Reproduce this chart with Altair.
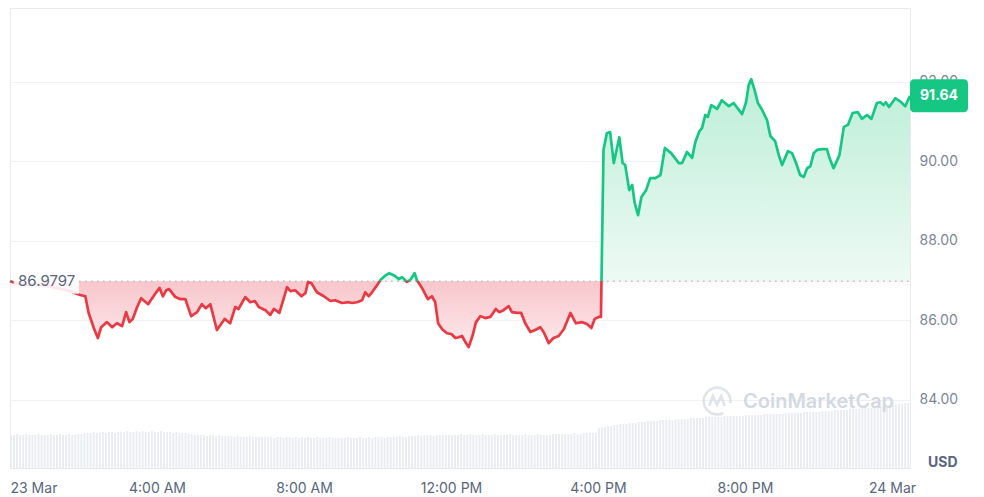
import altair as alt
import pandas as pd

# ---------------- data ----------------
OPEN_PRICE = 86.9797
LAST_LABEL = "91.64"

hours = [0.00, 0.33, 0.73, 1.14, 1.55, 1.91, 2.05, 2.14, 2.28, 2.39, 2.48, 2.64, 2.78, 2.91, 3.05, 3.16,
         3.25, 3.34, 3.46, 3.57, 3.76, 3.94, 4.07, 4.16, 4.25, 4.33, 4.50, 4.63, 4.77, 4.93, 5.09, 5.22,
         5.33, 5.45, 5.63, 5.84, 5.99, 6.13, 6.22, 6.31, 6.40, 6.54, 6.66, 6.77, 6.95, 7.08, 7.18, 7.33,
         7.54, 7.63, 7.76, 7.93, 8.04, 8.11, 8.20, 8.35, 8.54, 8.72, 8.85, 9.03, 9.22, 9.31, 9.44, 9.58,
         9.67, 9.76, 9.85, 9.99, 10.08, 10.20, 10.32, 10.48, 10.58, 10.67, 10.80, 10.89, 11.01, 11.07,
         11.21, 11.37, 11.48, 11.57, 11.65, 11.76, 11.89, 12.01, 12.12, 12.21, 12.30, 12.39, 12.48,
         12.59, 12.68, 12.80, 12.93, 13.07, 13.22, 13.31, 13.43, 13.57, 13.66, 13.80, 13.91, 14.02,
         14.16, 14.29, 14.43, 14.52, 14.66, 14.79, 14.93, 15.07, 15.25, 15.40, 15.56, 15.70, 15.82,
         15.91, 16.02, 16.08, 16.15, 16.24, 16.33, 16.43, 16.58, 16.67, 16.74, 16.85, 16.93, 17.00,
         17.09, 17.18, 17.31, 17.42, 17.56, 17.70, 17.82, 17.99, 18.20, 18.29, 18.42, 18.56, 18.65,
         18.76, 18.83, 18.92, 18.99, 19.08, 19.24, 19.37, 19.56, 19.69, 19.92, 20.03, 20.10, 20.17,
         20.26, 20.35, 20.44, 20.60, 20.69, 20.82, 20.92, 21.01, 21.17, 21.28, 21.39, 21.50, 21.60,
         21.69, 21.78, 21.87, 21.96, 22.10, 22.23, 22.29, 22.41, 22.57, 22.69, 22.80, 22.93, 23.07,
         23.18, 23.32, 23.44, 23.59, 23.68, 23.77, 23.83, 23.92, 24.09, 24.25, 24.36, 24.49]

prices = [86.98, 86.88, 86.91, 86.83, 86.75, 86.63, 86.60, 86.18, 85.80, 85.55, 85.82, 85.95, 85.82,
          85.92, 85.85, 86.20, 85.95, 86.03, 86.33, 86.55, 86.40, 86.65, 86.81, 86.60, 86.75, 86.78,
          86.58, 86.53, 86.53, 86.10, 86.20, 86.40, 86.30, 86.40, 85.75, 86.03, 85.92, 86.33, 86.28,
          86.43, 86.58, 86.45, 86.48, 86.33, 86.25, 86.13, 86.28, 86.18, 86.83, 86.73, 86.75, 86.60,
          86.68, 86.96, 86.93, 86.70, 86.60, 86.48, 86.50, 86.43, 86.45, 86.43, 86.45, 86.50, 86.70,
          86.60, 86.70, 86.88, 87.01, 87.11, 87.18, 87.11, 87.03, 87.08, 86.96, 87.01, 87.18, 87.01,
          86.81, 86.53, 86.60, 86.45, 85.92, 85.77, 85.67, 85.65, 85.55, 85.57, 85.60, 85.45, 85.32,
          85.62, 85.95, 86.10, 86.05, 86.08, 86.28, 86.20, 86.25, 86.35, 86.20, 86.18, 86.18, 85.92,
          85.70, 85.75, 85.82, 85.70, 85.42, 85.55, 85.60, 85.77, 86.18, 85.92, 85.95, 85.90, 85.80,
          86.03, 86.08, 86.08, 90.28, 90.70, 90.73, 89.95, 90.60, 89.95, 89.90, 89.27, 89.40, 88.94,
          88.64, 89.09, 89.27, 89.57, 89.57, 89.65, 90.33, 90.20, 89.95, 89.95, 90.23, 90.08, 90.48,
          90.75, 90.83, 91.16, 91.11, 91.41, 91.31, 91.53, 91.38, 91.46, 91.18, 91.48, 91.91, 92.06,
          91.79, 91.46, 91.33, 91.03, 90.63, 90.50, 90.15, 89.90, 90.25, 90.20, 89.95, 89.65, 89.60,
          89.82, 89.87, 90.20, 90.28, 90.30, 90.30, 90.10, 89.82, 90.15, 90.86, 90.91, 91.21, 91.23,
          91.06, 91.16, 91.06, 91.46, 91.48, 91.41, 91.48, 91.36, 91.58, 91.48, 91.38, 91.64]

# 5-minute volume bars (relative units)
volume = [
    33, 33, 34, 33, 33, 34, 33, 33, 33, 34, 33, 33,
    33, 34, 33, 33, 34, 33, 33, 34, 33, 33, 34, 34,
    35, 35, 35, 36, 35, 35, 36, 35, 36, 36, 35, 36,
    36, 36, 37, 36, 36, 37, 36, 37, 36, 36, 37, 36,
    36, 37, 36, 36, 36, 35, 36, 35, 35, 35, 34, 34,
    33, 33, 33, 33, 32, 33, 33, 32, 33, 32, 32, 32,
    32, 31, 32, 31, 31, 31, 32, 31, 31, 31, 31, 31,
    31, 31, 30, 31, 31, 30, 31, 31, 30, 31, 30, 31,
    30, 31, 30, 30, 31, 30, 30, 30, 31, 30, 30, 30,
    30, 30, 31, 30, 30, 30, 31, 30, 30, 31, 30, 31,
    31, 31, 30, 31, 31, 31, 31, 32, 31, 31, 32, 32,
    32, 33, 32, 33, 33, 33, 32, 33, 33, 33, 33, 33,
    33, 33, 33, 34, 33, 33, 34, 33, 33, 33, 34, 33,
    33, 33, 34, 33, 33, 33, 33, 34, 33, 33, 33, 33,
    34, 33, 33, 33, 34, 33, 33, 33, 33, 34, 34, 34,
    34, 34, 34, 34, 35, 34, 34, 35, 35, 35, 35, 35,
    40, 41, 41, 42, 42, 43, 43, 44, 44, 44, 45, 45,
    45, 46, 46, 46, 47, 47, 47, 47, 48, 48, 48, 48,
    48, 49, 49, 49, 49, 49, 50, 50, 50, 50, 50, 51,
    51, 51, 51, 51, 51, 52, 52, 52, 52, 52, 52, 52,
    53, 53, 53, 53, 53, 53, 54, 54, 54, 54, 54, 54,
    54, 55, 55, 55, 55, 55, 55, 56, 56, 56, 56, 56,
    56, 57, 57, 57, 57, 58, 58, 58, 58, 58, 59, 59,
    59, 59, 60, 60, 60, 60, 61, 61, 61, 62, 62, 62,
    63, 63, 64, 64, 65, 65,
]

x_tick_values = [0, 4, 8, 12, 16, 20, 24]
x_tick_labels = ["23 Mar", "4:00 AM", "8:00 AM", "12:00 PM", "4:00 PM", "8:00 PM", "24 Mar"]
y_tick_values = [84, 86, 88, 90, 92]

# ---------------- styling ----------------
GREEN = "#16c784"
RED = "#ea3943"
FONT = "Inter"
X_DOMAIN = [0, 24.49]
Y_DOMAIN = [82.28, 93.85]
W, H = 900, 460

price_df = pd.DataFrame({"hour": hours, "price": prices})
price_df["base"] = OPEN_PRICE

pmax, pmin = max(prices), min(prices)
off = (pmax - OPEN_PRICE) / (pmax - pmin)

line_grad = alt.Gradient(
    gradient="linear", x1=0, x2=0, y1=0, y2=1,
    stops=[alt.GradientStop(color=GREEN, offset=0),
           alt.GradientStop(color=GREEN, offset=off),
           alt.GradientStop(color=RED, offset=off),
           alt.GradientStop(color=RED, offset=1)],
)
area_grad = alt.Gradient(
    gradient="linear", x1=0, x2=0, y1=0, y2=1,
    stops=[alt.GradientStop(color="#bdeed8", offset=0),
           alt.GradientStop(color="#edfaf4", offset=off),
           alt.GradientStop(color="#f7c6cb", offset=off),
           alt.GradientStop(color="#fde9eb", offset=1)],
)

label_expr = " : ".join(
    f"datum.value == {v} ? '{l}'" for v, l in zip(x_tick_values, x_tick_labels)
) + " : ''"

x_scale = alt.Scale(domain=X_DOMAIN, nice=False, zero=False)
x_axis = alt.Axis(values=x_tick_values, labelExpr=label_expr, labelFlush=True,
                  ticks=False, domain=False, grid=False, title=None,
                  labelFont=FONT, labelFontSize=14, labelColor="#58667e",
                  labelPadding=13)
y_scale = alt.Scale(domain=Y_DOMAIN, nice=False, zero=False)
y_enc = alt.Y(
    "price:Q", scale=y_scale,
    axis=alt.Axis(orient="right", values=y_tick_values, format=".2f", ticks=False,
                  domain=False, grid=True, gridColor="#eff1f4", title=None,
                  labelFont=FONT, labelFontSize=14, labelColor="#7d8699",
                  labelPadding=9),
)

# volume bars
vol_df = pd.DataFrame({"i": range(len(volume)), "volume": volume})
vol_df["hour"] = vol_df["i"] / 12
vol_df["hour2"] = vol_df["hour"] + 0.62 / 12
vol_layer = alt.Chart(vol_df).mark_bar(color="#e7eaee", opacity=0.9).encode(
    x=alt.X("hour:Q", scale=x_scale, axis=x_axis),
    x2="hour2:Q",
    y=alt.Y("volume:Q", scale=alt.Scale(domain=[0, 460], nice=False), axis=None),
    y2=alt.datum(0),
)

base_chart = alt.Chart(price_df)
area = base_chart.mark_area(fill=area_grad, line=False).encode(
    x=alt.X("hour:Q", scale=x_scale, axis=x_axis), y=y_enc, y2=alt.Y2("base:Q"))
line = base_chart.mark_line(stroke=line_grad, strokeWidth=2.7, strokeJoin="round").encode(
    x="hour:Q", y="price:Q")

rule_df = pd.DataFrame({"hour": [1.88], "hour2": [X_DOMAIN[1]], "price": [OPEN_PRICE]})
base_rule = alt.Chart(rule_df).mark_rule(color="#9ba3ae", strokeDash=[1.5, 4.5], strokeWidth=1).encode(
    x="hour:Q", x2="hour2:Q", y="price:Q")

open_box_df = pd.DataFrame({"hour": [0.1], "hour2": [1.88],
                            "price": [OPEN_PRICE + 0.32], "price2": [OPEN_PRICE - 0.32]})
open_box = alt.Chart(open_box_df).mark_rect(color="white", opacity=0.88).encode(
    x="hour:Q", x2="hour2:Q", y="price:Q", y2="price2:Q")
open_text_df = pd.DataFrame({"hour": [0.22], "price": [OPEN_PRICE], "label": [f"{OPEN_PRICE:.4f}"]})
open_text = alt.Chart(open_text_df).mark_text(
    align="left", baseline="middle", font=FONT, fontSize=15, color="#58667e").encode(
    x="hour:Q", y="price:Q", text="label:N")

last_df = pd.DataFrame({"price": [prices[-1] + 0.415], "price2": [prices[-1] - 0.415],
                        "mid": [prices[-1]], "label": [LAST_LABEL]})
last_box = alt.Chart(last_df).mark_rect(color=GREEN, cornerRadius=4).encode(
    x=alt.value(W), x2=alt.value(W + 58), y="price:Q", y2="price2:Q")
last_text = alt.Chart(last_df).mark_text(
    align="center", baseline="middle", font=FONT, fontSize=14, fontWeight="bold", color="white").encode(
    x=alt.value(W + 29), y="mid:Q", text="label:N")

usd = alt.Chart(pd.DataFrame({"t": ["USD"]})).mark_text(
    align="left", baseline="middle", font=FONT, fontSize=14, fontWeight="bold", color="#58667e").encode(
    x=alt.value(W + 18), y=alt.value(H - 5), text="t:N")

logo_path = ("M 0.45 0.85 A 0.95 0.95 0 1 1 0.95 0.15 "
             "M -0.55 0.35 L -0.3 -0.35 L 0 0.25 L 0.3 -0.35 L 0.55 0.35")
logo = alt.Chart(pd.DataFrame({"a": [1]})).mark_point(
    shape=logo_path, filled=False, stroke="#d3d9e3", strokeWidth=2.6, size=800).encode(
    x=alt.value(707), y=alt.value(393))
wm = alt.Chart(pd.DataFrame({"t": ["CoinMarketCap"]})).mark_text(
    align="left", baseline="middle", font=FONT, fontSize=20, fontWeight=600, color="#d3d9e3").encode(
    x=alt.value(733), y=alt.value(394), text="t:N")

chart = alt.layer(
    vol_layer,
    alt.layer(area, base_rule, line, open_box, open_text, logo, wm, last_box, last_text, usd),
).resolve_scale(y="independent").properties(
    width=W, height=H, padding={"left": 0, "top": 0, "right": 4, "bottom": 4},
    background="white",
).configure_view(stroke="#e8eaed")

chart.save("out.html", embed_options={"renderer": "svg", "actions": False})
